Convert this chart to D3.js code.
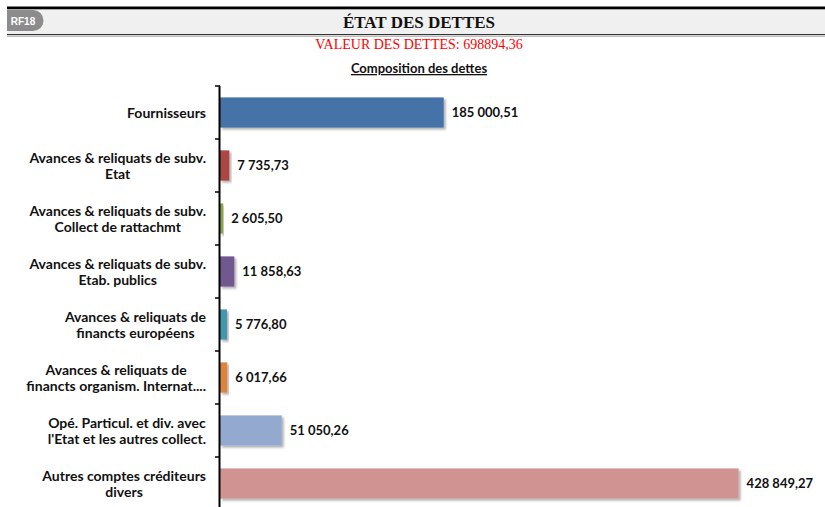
<!DOCTYPE html>
<html>
<head>
<meta charset="utf-8">
<script src="https://cdn.jsdelivr.net/npm/d3@7"></script>
<style>
  body { margin: 0; background: #fff; }
  svg { display: block; }
</style>
</head>
<body>
<svg id="chart"></svg>
<script>
// données du graphique
const categories = [
    "Fournisseurs",
    "Avances & reliquats de subv.|Etat",
    "Avances & reliquats de subv.|Collect de rattachmt",
    "Avances & reliquats de subv.|Etab. publics",
    "Avances & reliquats de|financts européens",
    "Avances & reliquats de|financts organism. Internat....",
    "Opé. Particul. et div. avec|l'Etat et les autres collect.",
    "Autres comptes créditeurs|divers"
];
const values = [185000.51, 7735.73, 2605.50, 11858.63, 5776.80, 6017.66, 51050.26, 428849.27];
const valueLabels = ["185 000,51", "7 735,73", "2 605,50", "11 858,63", "5 776,80", "6 017,66", "51 050,26", "428 849,27"];
const colors = ["#4572a7", "#aa4643", "#89a54e", "#71588f", "#4198af", "#db843d", "#93a9cf", "#d19392"];

const title = "ÉTAT DES DETTES";
const subtitle = "VALEUR DES DETTES: 698894,36";
const chartTitle = "Composition des dettes";
const badge = "RF18";

const width = 825;
const height = 507;
const marginTop = 86;
const marginLeft = 220;
const plotBottom = 510;   // l'axe sort un peu de l'image
const centerX = 419;
const labelFont = "Lato, 'Open Sans', sans-serif";

const svg = d3.select("#chart")
    .attr("width", width)
    .attr("height", height)
    .attr("viewBox", [0, 0, width, height]);

// ombre des barres
const defs = svg.append("defs");
const filter = defs.append("filter")
    .attr("id", "shadow")
    .attr("x", "-10%").attr("y", "-20%")
    .attr("width", "130%").attr("height", "150%");
filter.append("feDropShadow")
    .attr("dx", 2).attr("dy", 2)
    .attr("stdDeviation", 1.3)
    .attr("flood-color", "#000")
    .attr("flood-opacity", 0.3);

// bandeau du haut
const header = svg.append("g");
header.append("rect")
    .attr("x", 7).attr("y", 9)
    .attr("width", width - 7).attr("height", 25)
    .attr("fill", "#f0f0f0");
header.append("rect")      // trait noir épais
    .attr("x", 7).attr("y", 6.5)
    .attr("width", width - 7).attr("height", 2.8)
    .attr("fill", "#000");
header.append("rect")      // trait sous le bandeau
    .attr("x", 7).attr("y", 34)
    .attr("width", width - 7).attr("height", 1.2)
    .attr("fill", "#333");
header.append("rect")
    .attr("x", 7).attr("y", 36)
    .attr("width", width - 7).attr("height", 1)
    .attr("fill", "#bbb");

header.append("path")      // pastille RF18
    .attr("d", "M7,10 H33 A10.5,10.5 0 0 1 33,31 H7 Z")
    .attr("fill", "#8c8c8c");
header.append("text")
    .attr("x", 23).attr("y", 24.5)
    .attr("text-anchor", "middle")
    .attr("fill", "#fff")
    .attr("font-family", "'Liberation Sans Narrow', 'Liberation Sans', sans-serif")
    .attr("font-weight", "bold")
    .attr("font-size", "10px")
    .text(badge);

header.append("text")
    .attr("x", centerX).attr("y", 27.5)
    .attr("text-anchor", "middle")
    .attr("fill", "#111")
    .attr("font-family", "'Liberation Serif', 'DejaVu Serif', serif")
    .attr("font-weight", "bold")
    .attr("font-size", "17px")
    .text(title);

svg.append("text")
    .attr("x", centerX).attr("y", 48.5)
    .attr("text-anchor", "middle")
    .attr("fill", "#ff0000")
    .attr("font-family", "'Liberation Serif', 'DejaVu Serif', serif")
    .attr("font-size", "14px")
    .text(subtitle);

svg.append("text")
    .attr("x", centerX).attr("y", 73)
    .attr("text-anchor", "middle")
    .attr("fill", "#111")
    .attr("font-family", labelFont)
    .attr("font-weight", "bold")
    .attr("font-size", "13px")
    .attr("text-decoration", "underline")
    .text(chartTitle);

// échelles
const x = d3.scaleLinear()
    .domain([0, 428849.27 / 0.8])   // bornes
    .range([marginLeft, marginLeft + 518.6 / 0.8]);

const y = d3.scaleBand()
    .domain(categories)
    .range([marginTop, plotBottom])
    .paddingInner(0.43)
    .paddingOuter(0.215);

const yTicks = d3.scaleBand()     // limites des catégories pour les graduations
    .domain(categories)
    .range([marginTop, plotBottom]);

// barres
svg.append("g")
    .selectAll("rect")
    .data(categories)
    .join("rect")
    .attr("x", x(0))
    .attr("y", d => y(d))
    .attr("width", (d, i) => x(values[i]) - x(0))
    .attr("height", y.bandwidth())
    .attr("fill", (d, i) => colors[i])
    .attr("filter", "url(#shadow)");

// étiquettes de valeurs
svg.append("g")
    .selectAll("text")
    .data(categories)
    .join("text")
    .attr("x", (d, i) => x(values[i]) + 8)
    .attr("y", d => y(d) + y.bandwidth() / 2)
    .attr("dy", "0.36em")
    .attr("fill", "#111")
    .attr("font-family", labelFont)
    .attr("font-weight", "bold")
    .attr("font-size", "13px")
    .text((d, i) => valueLabels[i]);

// axe vertical
const axis = svg.append("g");
axis.append("line")
    .attr("x1", marginLeft - 0.5).attr("x2", marginLeft - 0.5)
    .attr("y1", marginTop).attr("y2", plotBottom)
    .attr("stroke", "#000")
    .attr("stroke-width", 2);
axis.selectAll(".tick")
    .data(categories)
    .join("line")
    .attr("class", "tick")
    .attr("x1", marginLeft - 5).attr("x2", marginLeft)
    .attr("y1", d => yTicks(d)).attr("y2", d => yTicks(d))
    .attr("stroke", "#000")
    .attr("stroke-width", 1.5);

// libellés des catégories : lignes centrées entre elles, bloc aligné à droite
const lineHeight = 16;
const labelRight = marginLeft - 14;
axis.selectAll(".cat")
    .data(categories)
    .join("text")
    .attr("class", "cat")
    .attr("text-anchor", "middle")
    .attr("fill", "#111")
    .attr("font-family", labelFont)
    .attr("font-weight", "bold")
    .attr("font-size", "14px")
    .each(function (d) {
        const lines = d.split("|");
        const cy = y(d) + y.bandwidth() / 2;
        const t = d3.select(this);
        const spans = lines.map((l, k) => t.append("tspan")
            .attr("y", cy + (k - (lines.length - 1) / 2) * lineHeight)
            .attr("dy", "0.36em")
            .text(l));
        const maxW = d3.max(spans, s => s.node().getComputedTextLength());
        spans.forEach(s => s.attr("x", labelRight - maxW / 2));
    });
</script>
</body>
</html>
